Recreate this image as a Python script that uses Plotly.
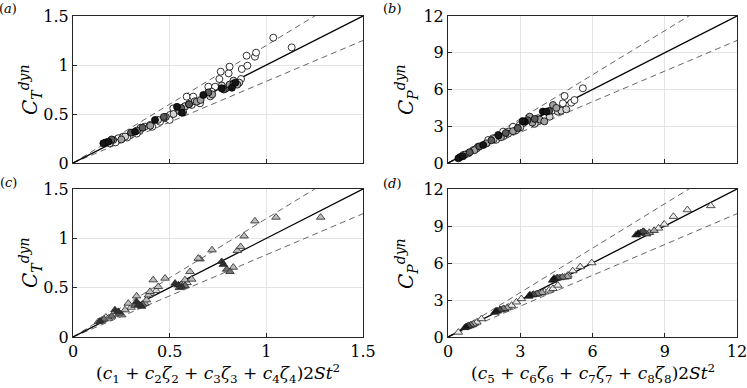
import plotly.graph_objects as go

W, H = 747, 388
FONT = 'DejaVu Serif, serif'
EDGE = '#262626'

# ---- panel (a): C_T^dyn vs model, circles by fill shade
A_BLACK_X = [0.157, 0.183, 0.321, 0.424, 0.538, 0.564, 0.674, 0.769, 0.822, 0.84]
A_BLACK_Y = [0.201, 0.218, 0.32, 0.439, 0.573, 0.512, 0.694, 0.762, 0.768, 0.82]
A_DARK_X = [0.17, 0.2, 0.3, 0.36, 0.47, 0.56, 0.6, 0.7, 0.78, 0.83]
A_DARK_Y = [0.21, 0.24, 0.31, 0.36, 0.47, 0.56, 0.6, 0.72, 0.75, 0.81]
A_GRAY_X = [0.208, 0.25, 0.33, 0.4, 0.48, 0.55, 0.6, 0.64, 0.66, 0.72, 0.79, 0.81, 0.85]
A_GRAY_Y = [0.235, 0.24, 0.33, 0.38, 0.47, 0.53, 0.6, 0.626, 0.643, 0.7, 0.76, 0.8, 0.8]
A_LIGHT_X = [0.19, 0.27, 0.35, 0.44, 0.52, 0.58, 0.63, 0.71, 0.77, 0.83, 0.86]
A_LIGHT_Y = [0.2, 0.27, 0.36, 0.44, 0.5, 0.58, 0.63, 0.68, 0.79, 0.84, 0.82]
A_WHITE_X = [0.234, 0.26, 0.295, 0.347, 0.372, 0.398, 0.45, 0.476, 0.502, 0.519, 0.545, 0.579,
             0.614, 0.657, 0.588, 0.622, 0.70, 0.735, 0.717, 0.757, 0.764, 0.805, 0.81, 0.869,
             0.873, 0.898, 0.902, 0.941, 0.947, 1.036, 1.131, 0.22, 0.28, 0.33, 0.41, 0.5, 0.57]
A_WHITE_Y = [0.252, 0.269, 0.286, 0.337, 0.371, 0.388, 0.421, 0.456, 0.49, 0.558, 0.541, 0.575,
             0.592, 0.609, 0.677, 0.677, 0.779, 0.779, 0.728, 0.857, 0.932, 0.915, 0.983, 0.857,
             0.959, 1.095, 0.993, 1.085, 1.126, 1.279, 1.18, 0.21, 0.26, 0.3, 0.37, 0.44, 0.52]

# ---- panel (b): C_P^dyn
B_BLACK_X = [0.43, 0.62, 1.46, 2.1, 3.19, 3.1, 3.94, 4.08]
B_BLACK_Y = [0.38, 0.55, 1.47, 2.25, 3.37, 3.42, 4.2, 4.19]
B_DARK_X = [0.5, 0.9, 1.3, 1.8, 2.4, 2.9, 3.3, 3.6, 4.2]
B_DARK_Y = [0.48, 0.88, 1.35, 1.85, 2.45, 2.85, 3.5, 3.6, 4.25]
B_GRAY_X = [0.7, 1.1, 1.6, 2.2, 2.7, 3.39, 3.5, 3.8, 4.0, 4.36, 4.5]
B_GRAY_Y = [0.68, 1.05, 1.6, 2.1, 2.6, 3.78, 3.3, 3.55, 3.4, 4.73, 4.5]
B_LIGHT_X = [0.84, 1.2, 1.9, 2.5, 3.0, 3.6, 3.74, 4.22, 4.56, 4.7, 4.91]
B_LIGHT_Y = [0.79, 1.2, 1.95, 2.4, 2.9, 3.2, 3.65, 3.78, 4.19, 4.27, 4.38]
B_WHITE_X = [0.63, 1.05, 1.25, 1.67, 1.87, 2.08, 2.29, 2.5, 2.7, 2.84, 2.98, 3.12, 3.53, 3.74,
             4.36, 4.77, 4.84, 5.12, 5.25, 5.6, 2.0, 2.3]
B_WHITE_Y = [0.65, 1.06, 1.33, 1.88, 2.02, 2.29, 2.56, 2.56, 2.96, 2.69, 3.1, 3.24, 3.51, 3.4,
             4.3, 4.87, 5.47, 4.92, 5.14, 6.1, 1.9, 2.2]

# ---- panel (c): triangles
C_DARK_X = [0.14, 0.217, 0.234, 0.329, 0.355, 0.34, 0.528, 0.545, 0.562, 0.769, 0.778]
C_DARK_Y = [0.16, 0.274, 0.257, 0.358, 0.31, 0.33, 0.544, 0.527, 0.51, 0.763, 0.735]
C_MID_X = [0.15, 0.16, 0.2, 0.24, 0.32, 0.36, 0.55, 0.58, 0.795, 0.812]
C_MID_Y = [0.17, 0.18, 0.21, 0.24, 0.32, 0.33, 0.5, 0.52, 0.686, 0.662]
C_GRAY_X = [0.131, 0.183, 0.252, 0.269, 0.286, 0.372, 0.38, 0.39, 0.398, 0.579, 0.605, 0.614,
            0.829, 0.85, 0.867, 0.719, 0.657, 0.648, 0.885, 0.941, 1.05, 1.281, 0.415, 0.476,
            0.441, 0.329]
C_GRAY_Y = [0.155, 0.19, 0.223, 0.274, 0.341, 0.341, 0.375, 0.425, 0.459, 0.578, 0.662, 0.585,
            0.706, 0.875, 0.915, 0.882, 0.79, 0.797, 1.023, 1.175, 1.213, 1.213, 0.578, 0.595,
            0.51, 0.415]
C_LIGHT_X = [0.17, 0.22, 0.3, 0.4, 0.43, 0.56, 0.59]
C_LIGHT_Y = [0.2, 0.23, 0.3, 0.44, 0.47, 0.53, 0.55]

# ---- panel (d): triangles
D_BLACK_X = [0.7, 0.75, 1.95, 2.0, 3.35, 3.4, 4.35, 4.4, 7.81, 7.9]
D_BLACK_Y = [0.75, 0.82, 2.0, 2.1, 3.3, 3.4, 4.6, 4.75, 8.27, 8.4]
D_DARK_X = [0.8, 0.85, 2.05, 2.15, 3.5, 3.55, 4.5, 4.55, 8.0, 8.1]
D_DARK_Y = [0.85, 0.92, 2.1, 2.2, 3.4, 3.45, 4.75, 4.8, 8.45, 8.55]
D_MID_X = [0.9, 0.95, 2.2, 2.3, 3.65, 3.7, 4.65, 4.75, 8.15, 8.25]
D_MID_Y = [0.9, 0.98, 2.2, 2.3, 3.45, 3.5, 4.8, 4.85, 8.5, 8.35]
D_GRAY_X = [1.0, 1.05, 2.35, 2.45, 3.8, 3.9, 4.85, 4.95, 8.36, 8.56]
D_GRAY_Y = [0.98, 1.05, 2.25, 2.35, 3.55, 3.6, 4.85, 4.9, 8.47, 8.63]
D_LIGHT_X = [0.43, 1.1, 1.2, 1.39, 2.5, 2.64, 2.84, 3.05, 4.01, 4.2, 4.36, 4.56, 4.98, 5.18,
             5.49, 5.97, 8.74, 8.98, 9.36, 9.94, 10.91]
D_LIGHT_Y = [0.38, 1.1, 1.2, 1.47, 2.42, 2.56, 2.83, 3.1, 3.65, 3.8, 3.92, 4.19, 5.01, 5.36,
             5.69, 6.01, 8.82, 9.14, 9.77, 10.31, 10.64]

T_MAX, P_MAX = 1.5, 12
T_TICKS = [0, 0.5, 1, 1.5]
P_TICKS = [0, 3, 6, 9, 12]
BAND = 1.2  # +/- 20% lines

# axis domains, in paper fractions (from pixel positions)
XD_LEFT = [73 / W, 363 / W]
XD_RIGHT = [448 / W, 737 / W]
YD_TOP = [1 - 163 / H, 1 - 16 / H]
YD_BOT = [1 - 337 / H, 1 - 189 / H]

fig = go.Figure()


def add_ref_lines(xa, ya, vmax):
    xs = [0, vmax]
    fig.add_trace(go.Scatter(x=xs, y=[0, vmax * BAND], xaxis=xa, yaxis=ya, mode='lines',
                             line=dict(color='#555', width=0.9, dash='6px,4px'), showlegend=False))
    fig.add_trace(go.Scatter(x=xs, y=[0, vmax / BAND], xaxis=xa, yaxis=ya, mode='lines',
                             line=dict(color='#555', width=0.9, dash='6px,4px'), showlegend=False))
    fig.add_trace(go.Scatter(x=xs, y=xs, xaxis=xa, yaxis=ya, mode='lines',
                             line=dict(color='black', width=1.3), showlegend=False))


def add_pts(xa, ya, x, y, fill, symbol, size, edge='black'):
    fig.add_trace(go.Scatter(x=x, y=y, xaxis=xa, yaxis=ya, mode='markers', showlegend=False,
                             marker=dict(symbol=symbol, size=size, color=fill,
                                         line=dict(color=edge, width=0.8))))


add_ref_lines('x', 'y', T_MAX)
for xs, ys, c in [(A_WHITE_X, A_WHITE_Y, 'white'), (A_LIGHT_X, A_LIGHT_Y, '#d4d4d4'),
                  (A_GRAY_X, A_GRAY_Y, '#a0a0a0'), (A_DARK_X, A_DARK_Y, '#5a5a5a'),
                  (A_BLACK_X, A_BLACK_Y, '#151515')]:
    add_pts('x', 'y', xs, ys, c, 'circle', 7)

add_ref_lines('x2', 'y2', P_MAX)
for xs, ys, c in [(B_WHITE_X, B_WHITE_Y, 'white'), (B_LIGHT_X, B_LIGHT_Y, '#d4d4d4'),
                  (B_GRAY_X, B_GRAY_Y, '#a0a0a0'), (B_DARK_X, B_DARK_Y, '#5a5a5a'),
                  (B_BLACK_X, B_BLACK_Y, '#151515')]:
    add_pts('x2', 'y2', xs, ys, c, 'circle', 7)

add_ref_lines('x3', 'y3', T_MAX)
for xs, ys, c in [(C_LIGHT_X, C_LIGHT_Y, '#dcdcdc'), (C_GRAY_X, C_GRAY_Y, '#bdbdbd'),
                  (C_MID_X, C_MID_Y, '#707070'), (C_DARK_X, C_DARK_Y, '#303030')]:
    add_pts('x3', 'y3', xs, ys, c, 'triangle-up', 7.5, EDGE)

add_ref_lines('x4', 'y4', P_MAX)
for xs, ys, c in [(D_LIGHT_X, D_LIGHT_Y, '#ececec'), (D_GRAY_X, D_GRAY_Y, '#a8a8a8'),
                  (D_MID_X, D_MID_Y, '#7a7a7a'), (D_DARK_X, D_DARK_Y, '#4a4a4a'),
                  (D_BLACK_X, D_BLACK_Y, '#151515')]:
    add_pts('x4', 'y4', xs, ys, c, 'triangle-up', 7.5, EDGE)


def ax(domain, anchor, vmax, ticks, labels=True):
    return dict(domain=domain, anchor=anchor, range=[0, vmax], tickvals=ticks,
                showticklabels=labels, ticks='inside', ticklen=4, tickcolor=EDGE,
                showline=True, linecolor=EDGE, linewidth=1, mirror=True, automargin=False,
                ticklabeloverflow='allow',
                showgrid=True, gridcolor='#e4e4e4', gridwidth=1, zeroline=False,
                tickfont=dict(family=FONT, size=16, color='black'))


fig.update_layout(
    width=W, height=H, margin=dict(l=0, r=0, t=0, b=0, autoexpand=False),
    plot_bgcolor='white', paper_bgcolor='white', showlegend=False,
    font=dict(family=FONT),
    xaxis=ax(XD_LEFT, 'y', T_MAX, T_TICKS, False),
    yaxis=ax(YD_TOP, 'x', T_MAX, T_TICKS),
    xaxis2=ax(XD_RIGHT, 'y2', P_MAX, P_TICKS, False),
    yaxis2=ax(YD_TOP, 'x2', P_MAX, P_TICKS),
    xaxis3=ax(XD_LEFT, 'y3', T_MAX, T_TICKS),
    yaxis3=ax(YD_BOT, 'x3', T_MAX, T_TICKS),
    xaxis4=ax(XD_RIGHT, 'y4', P_MAX, P_TICKS),
    yaxis4=ax(YD_BOT, 'x4', P_MAX, P_TICKS),
)

ytitle_T = '<i>C</i><sub><i>T</i></sub><sup><i>dyn</i></sup>'
ytitle_P = '<i>C</i><sub><i>P</i></sub><sup><i>dyn</i></sup>'
xtitle_c = ('(<i>c</i><sub>1</sub> + <i>c</i><sub>2</sub><i>ζ</i><sub>2</sub> + '
            '<i>c</i><sub>3</sub><i>ζ</i><sub>3</sub> + <i>c</i><sub>4</sub><i>ζ</i><sub>4</sub>)2<i>St</i><sup>2</sup>')
xtitle_d = ('(<i>c</i><sub>5</sub> + <i>c</i><sub>6</sub><i>ζ</i><sub>6</sub> + '
            '<i>c</i><sub>7</sub><i>ζ</i><sub>7</sub> + <i>c</i><sub>8</sub><i>ζ</i><sub>8</sub>)2<i>St</i><sup>2</sup>')

notes = [
    (8, 8, '(<i>a</i>)', 0, 13), (392, 8, '(<i>b</i>)', 0, 13),
    (8, 182, '(<i>c</i>)', 0, 13), (392, 183, '(<i>d</i>)', 0, 13),
    (30, 90, ytitle_T, -90, 20), (406, 90, ytitle_P, -90, 20),
    (30, 263, ytitle_T, -90, 20), (406, 264, ytitle_P, -90, 20),
    (218, 373, xtitle_c, 0, 17), (593, 373, xtitle_d, 0, 17),
]
for px, py, txt, ang, sz in notes:
    fig.add_annotation(x=px / W, y=1 - py / H, xref='paper', yref='paper', text=txt,
                       textangle=ang, showarrow=False, xanchor='center', yanchor='middle',
                       font=dict(family=FONT, size=sz, color='black'))

fig.write_html("out.html", config={'displayModeBar': False},
               post_script="document.body.style.margin='0';document.body.style.overflow='hidden';")
